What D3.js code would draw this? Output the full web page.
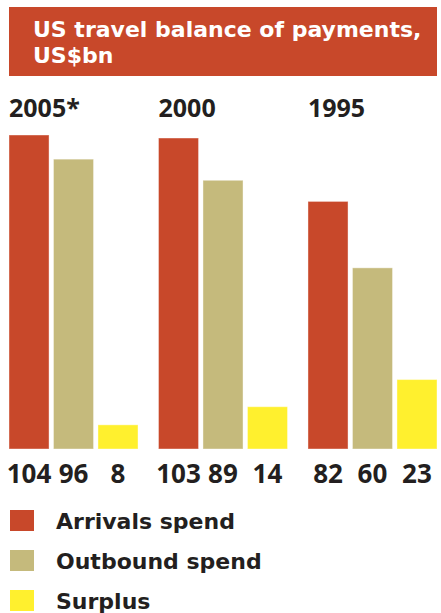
<!DOCTYPE html>
<html>
<head>
<meta charset="utf-8">
<script src="https://cdn.jsdelivr.net/npm/d3@7"></script>
<style>
  body { margin: 0; background: #fff; }
  text { font-family: "DejaVu Sans", sans-serif; font-weight: 700; }
  text.num { font-family: "Open Sans", "Noto Sans", sans-serif; }
</style>
</head>
<body>
<div id="chart"></div>
<script>
// data
const years = ["2005*", "2000", "1995"];
const series = ["Arrivals spend", "Outbound spend", "Surplus"];
const arrivals = [104, 103, 82];
const outbound = [96, 89, 60];
const surplus = [8, 14, 23];
const colors = ["#c8482a", "#c5ba7c", "#fff02e"];

const W = 441, H = 613;

const svg = d3.select("#chart")
  .append("svg")
    .attr("width", W)
    .attr("height", H);

// title box
svg.append("rect")
  .attr("x", 9).attr("y", 7)
  .attr("width", 428).attr("height", 69)
  .attr("fill", colors[0]);

const title = svg.append("text")
  .attr("fill", "#fff")
  .style("font-size", "22px");
title.append("tspan").attr("x", 33).attr("y", 37).text("US travel balance of payments,");
title.append("tspan").attr("x", 33).attr("y", 63).text("US$bn");

// scales
const x0 = d3.scaleBand().domain(years).range([9, 437]).paddingInner(0.137);
const x1 = d3.scaleBand().domain(series).range([0, x0.bandwidth()]).paddingInner(0.1);
const y = d3.scaleLinear().domain([0, 104]).range([449, 135]);
const color = d3.scaleOrdinal().domain(series).range(colors);

const rows = years.map((yr, i) => ({
  year: yr,
  values: [
    { key: series[0], value: arrivals[i] },
    { key: series[1], value: outbound[i] },
    { key: series[2], value: surplus[i] }
  ]
}));

const groups = svg.selectAll("g.group")
  .data(rows)
  .join("g")
    .attr("class", "group")
    .attr("transform", d => `translate(${x0(d.year)},0)`);

// year labels
groups.append("text")
  .attr("class", "num")
  .attr("x", 0)
  .attr("y", 117)
  .attr("fill", "#231f20")
  .style("font-size", "25px")
  .text(d => d.year);

groups.selectAll("rect")
  .data(d => d.values)
  .join("rect")
    .attr("x", d => x1(d.key))
    .attr("y", d => y(d.value))
    .attr("width", x1.bandwidth())
    .attr("height", d => y(0) - y(d.value))
    .attr("fill", d => color(d.key))
    .attr("stroke", "#fff")
    .attr("stroke-opacity", 0.4)
    .attr("stroke-width", 1);

// value labels under bars
groups.selectAll("text.val")
  .data(d => d.values)
  .join("text")
    .attr("class", "val num")
    .attr("x", d => x1(d.key) + x1.bandwidth() / 2)
    .attr("y", 483)
    .attr("text-anchor", "middle")
    .attr("fill", "#231f20")
    .style("font-size", "26px")
    .text(d => d.value);

// legend
const legend = svg.selectAll("g.legend")
  .data(series)
  .join("g")
    .attr("class", "legend")
    .attr("transform", (d, i) => `translate(10,${510 + i * 40})`);

legend.append("rect")
  .attr("width", 24).attr("height", 21)
  .attr("fill", d => color(d));

legend.append("text")
  .attr("x", 46)
  .attr("y", 19)
  .attr("fill", "#231f20")
  .style("font-size", "22px")
  .text(d => d);
</script>
</body>
</html>
